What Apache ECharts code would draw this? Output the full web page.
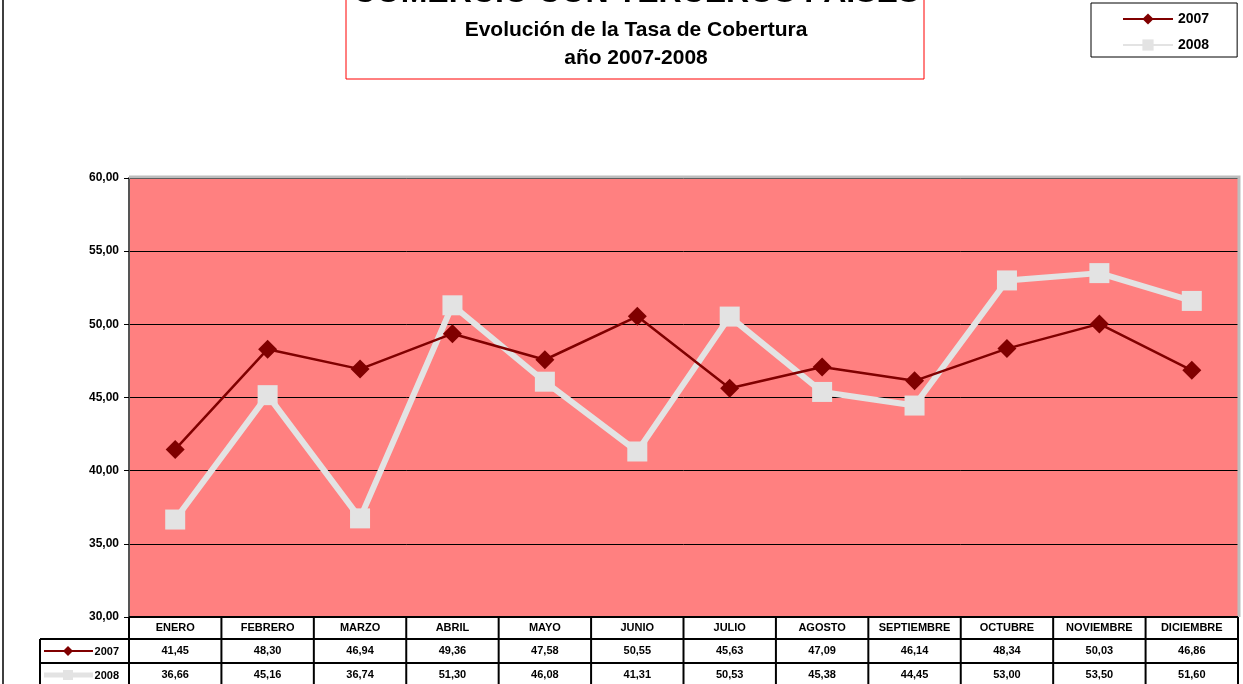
<!DOCTYPE html>
<html><head><meta charset="utf-8">
<script src="https://cdn.jsdelivr.net/npm/echarts@6/dist/echarts.min.js"></script>
<style>html,body{margin:0;padding:0;background:#fff}#c{width:1243px;height:684px}</style>
</head><body><div id="c"></div>
<script>
const months = ['ENERO','FEBRERO','MARZO','ABRIL','MAYO','JUNIO','JULIO','AGOSTO','SEPTIEMBRE','OCTUBRE','NOVIEMBRE','DICIEMBRE'];
const s2007 = [41.45,48.30,46.94,49.36,47.58,50.55,45.63,47.09,46.14,48.34,50.03,46.86];
const s2008 = [36.66,45.16,36.74,51.30,46.08,41.31,50.53,45.38,44.45,53.00,53.50,51.60];
const seriesNames = ['2007','2008'];
const yTicks = [30,35,40,45,50,55,60];

const FONT = '"Liberation Sans", Arial, sans-serif';
const C07 = '#800000', C08 = '#E3E3E3';
const fmt = v => v.toFixed(2).replace('.', ',');

const chart = echarts.init(document.getElementById('c'), null, {renderer:'canvas'});
const option = {
  animation:false,
  textStyle:{fontFamily:FONT},
  grid:{left:129,right:5,top:178,bottom:67,show:true,backgroundColor:'#FF8080',borderWidth:0},
  legend:{
    left:1091, top:3, orient:'vertical',
    padding:[9,28,5,31], itemGap:12, itemWidth:50, itemHeight:14,
    backgroundColor:'#fff', borderColor:'#000', borderWidth:1, borderRadius:0,
    textStyle:{fontFamily:FONT,fontWeight:'bold',fontSize:14,color:'#000'},
    data:seriesNames
  },
  xAxis:{type:'category',data:months,boundaryGap:true,
    axisLine:{show:false},axisTick:{show:false},axisLabel:{show:false},splitLine:{show:false}},
  yAxis:{type:'value',min:yTicks[0],max:yTicks[yTicks.length-1],interval:5,
    axisLine:{show:true,lineStyle:{color:'#555',width:2}},
    axisTick:{show:true,length:5,lineStyle:{color:'#000',width:1}},
    axisLabel:{formatter:fmt,fontFamily:FONT,fontWeight:'bold',fontSize:12,color:'#000',margin:10},
    splitLine:{show:true,lineStyle:{color:'#000',width:1}}},
  series:[
    {name:seriesNames[0],type:'line',data:s2007,color:C07,symbol:'diamond',symbolSize:19,
     lineStyle:{color:C07,width:2.5},itemStyle:{color:C07},z:4},
    {name:seriesNames[1],type:'line',data:s2008,color:C08,symbol:'rect',symbolSize:20,
     lineStyle:{color:C08,width:6},itemStyle:{color:C08},z:3}
  ]
};
chart.setOption(option);

// table & decorations
const g = [];
const x0 = chart.convertToPixel({xAxisIndex:0}, 0);
const x1 = chart.convertToPixel({xAxisIndex:0}, 1);
const cw = x1 - x0;
const left = x0 - cw/2, right = left + cw*months.length;
const yTop = chart.convertToPixel({yAxisIndex:0}, yTicks[yTicks.length-1]);
const yBot = chart.convertToPixel({yAxisIndex:0}, yTicks[0]);
const rowH = [22,24,24];
const keyLeft = 40;
const r0 = yBot, r1 = r0+rowH[0], r2 = r1+rowH[1], r3 = r2+rowH[2];
// outer frame
g.push({type:'rect',shape:{x:3,y:-10,width:1400,height:720},style:{fill:null,stroke:'#000',lineWidth:1.5},z:0,silent:true});
// plot border top/right gray
g.push({type:'polyline',shape:{points:[[left,yTop-1],[right+1,yTop-1],[right+1,yBot]]},style:{stroke:'#BDBDBD',lineWidth:3,fill:null},z:1});
// title box
g.push({type:'rect',shape:{x:346,y:-10,width:578,height:89},style:{fill:'#fff',stroke:'#FF0000',lineWidth:1},z:1});
g.push({type:'text',x:636,y:-7,style:{text:'COMERCIO CON TERCEROS PAISES',font:'bold 32px '+FONT,fill:'#000',align:'center',verticalAlign:'middle'},z:2});
g.push({type:'text',x:636,y:30,style:{text:'Evolución de la Tasa de Cobertura',font:'bold 21px '+FONT,fill:'#000',align:'center',verticalAlign:'middle'},z:2});
g.push({type:'text',x:636,y:58,style:{text:'año 2007-2008',font:'bold 21px '+FONT,fill:'#000',align:'center',verticalAlign:'middle'},z:2});
// table fill
g.push({type:'rect',shape:{x:left,y:r0,width:right-left,height:r3-r0},style:{fill:'#fff'},z:5});
g.push({type:'rect',shape:{x:keyLeft,y:r1,width:left-keyLeft,height:r3-r1},style:{fill:'#fff'},z:5});
const L = (a,b,c,d)=>g.push({type:'line',shape:{x1:a,y1:b,x2:c,y2:d},style:{stroke:'#000',lineWidth:2},z:7});
L(left,r0,right,r0); L(keyLeft,r1,right,r1); L(keyLeft,r2,right,r2); L(keyLeft,r3,right,r3);
L(keyLeft,r1,keyLeft,r3+5);
for(let i=0;i<=months.length;i++){ const x=left+i*cw; L(x,r0,x,r3+5); }
const T=(txt,x,y,al)=>g.push({type:'text',x:x,y:y,style:{text:txt,font:'bold 11px '+FONT,fill:'#000',align:al||'center',verticalAlign:'middle'},z:8});
months.forEach((m,i)=>{
  const cx = chart.convertToPixel({xAxisIndex:0}, i);
  T(m,cx,(r0+r1)/2);
  T(fmt(s2007[i]),cx,(r1+r2)/2);
  T(fmt(s2008[i]),cx,(r2+r3)/2);
});
// key cells
const k1=(r1+r2)/2, k2=(r2+r3)/2;
g.push({type:'line',shape:{x1:44,y1:k1,x2:93,y2:k1},style:{stroke:C07,lineWidth:2},z:8});
g.push({type:'polygon',shape:{points:[[68,k1-5],[73,k1],[68,k1+5],[63,k1]]},style:{fill:C07},z:9});
g.push({type:'line',shape:{x1:44,y1:k2,x2:93,y2:k2},style:{stroke:C08,lineWidth:5},z:8});
g.push({type:'rect',shape:{x:63,y:k2-5,width:10,height:10},style:{fill:C08},z:9});
T('2007',119,k1+1,'right'); T('2008',119,k2+1,'right');
chart.setOption({graphic:{elements:g}});
</script></body></html>
